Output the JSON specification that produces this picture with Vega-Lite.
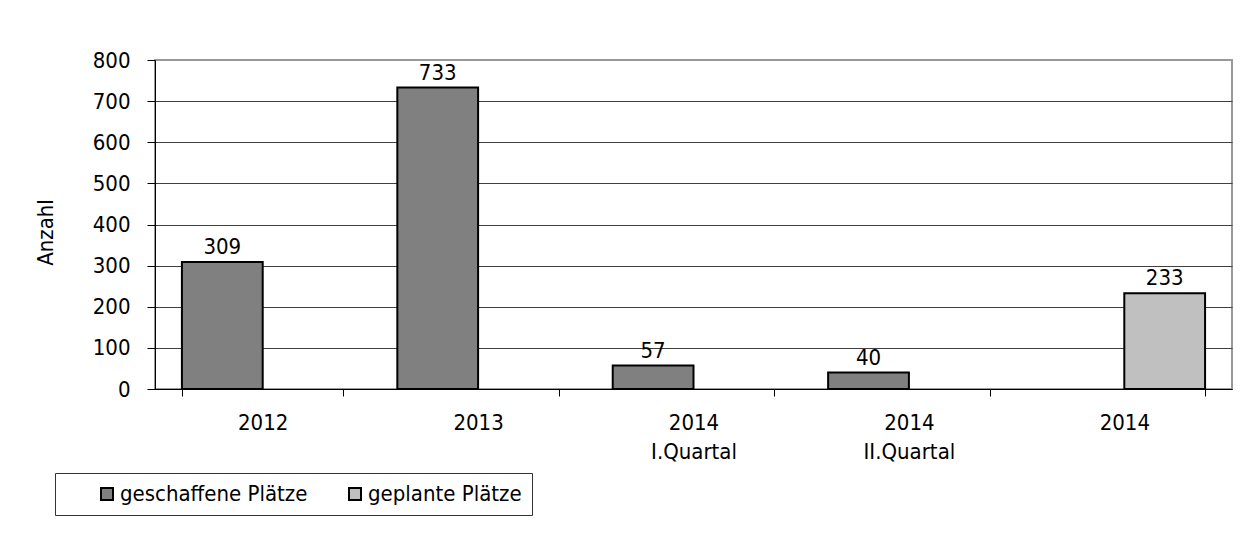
{
  "$schema": "https://vega.github.io/schema/vega-lite/v6.json",
  "width": 1077,
  "height": 329,
  "autosize": {"type": "none"},
  "padding": {"left": 155, "top": 60, "right": 21, "bottom": 145},
  "background": "white",
  "data": {
    "values": [
      {"Jahr": "2012", "Art": "geschaffene Plätze", "Anzahl": 309},
      {"Jahr": "2013", "Art": "geschaffene Plätze", "Anzahl": 733},
      {"Jahr": "2014|I.Quartal", "Art": "geschaffene Plätze", "Anzahl": 57},
      {"Jahr": "2014|II.Quartal", "Art": "geschaffene Plätze", "Anzahl": 40},
      {"Jahr": "2014", "Art": "geplante Plätze", "Anzahl": 233}
    ]
  },
  "encoding": {
    "x": {
      "field": "Jahr",
      "type": "nominal",
      "sort": ["2012", "2013", "2014|I.Quartal", "2014|II.Quartal", "2014"],
      "scale": {"paddingInner": 0.25, "paddingOuter": 0.125},
      "axis": {
        "title": null,
        "labelAngle": 0,
        "labelExpr": "split(datum.label, '|')",
        "labelLineHeight": 29,
        "labelPadding": 16,
        "tickBand": "extent",
        "tickSize": 7,
        "tickColor": "black",
        "domainColor": "black",
        "labelFont": "DejaVu Sans Condensed",
        "labelFontSize": 22,
        "labelColor": "black",
        "grid": false
      }
    },
    "xOffset": {
      "field": "Art",
      "type": "nominal",
      "scale": {"domain": ["geschaffene Plätze", "geplante Plätze"]}
    },
    "y": {
      "field": "Anzahl",
      "type": "quantitative",
      "scale": {"domain": [0, 800], "nice": false},
      "axis": {
        "title": "Anzahl",
        "values": [0, 100, 200, 300, 400, 500, 600, 700, 800],
        "tickSize": 8,
        "labelPadding": 17,
        "tickColor": "black",
        "domainColor": "black",
        "labelFont": "DejaVu Sans Condensed",
        "labelFontSize": 22,
        "labelColor": "black",
        "titleFont": "DejaVu Sans Condensed",
        "titleFontSize": 22,
        "titleFontWeight": "normal",
        "titleColor": "black",
        "titleX": -110,
        "titleY": 172,
        "titleAngle": -90,
        "titleAlign": "center",
        "titleBaseline": "middle",
        "grid": true,
        "gridColor": {"condition": {"test": "datum.value == 800", "value": "#999999"}, "value": "#404040"},
        "gridOpacity": 1
      }
    }
  },
  "layer": [
    {
      "mark": {"type": "bar", "stroke": "black", "strokeWidth": 2},
      "encoding": {
        "color": {
          "field": "Art",
          "type": "nominal",
          "scale": {"domain": ["geschaffene Plätze", "geplante Plätze"], "range": ["#808080", "#c0c0c0"]},
          "legend": {
            "title": " ",
            "titleOrient": "left",
            "titleFontSize": 1,
            "titlePadding": 31,
            "orient": "none",
            "direction": "horizontal",
            "legendX": -100,
            "legendY": 413,
            "padding": 10,
            "strokeColor": "#333333",
            "symbolType": "square",
            "symbolSize": 144,
            "symbolStrokeColor": "black",
            "symbolStrokeWidth": 2,
            "symbolOpacity": 1,
            "labelFont": "DejaVu Sans Condensed",
            "labelFontSize": 22,
            "labelColor": "black",
            "labelOffset": 2,
            "labelLimit": 400,
            "columnPadding": 36
          }
        }
      }
    },
    {
      "mark": {"type": "text", "baseline": "bottom", "dy": -3, "font": "DejaVu Sans Condensed", "fontSize": 22, "color": "black"},
      "encoding": {
        "text": {"field": "Anzahl", "type": "quantitative"}
      }
    }
  ],
  "config": {
    "view": {"stroke": "#999999", "strokeWidth": 2}
  }
}
